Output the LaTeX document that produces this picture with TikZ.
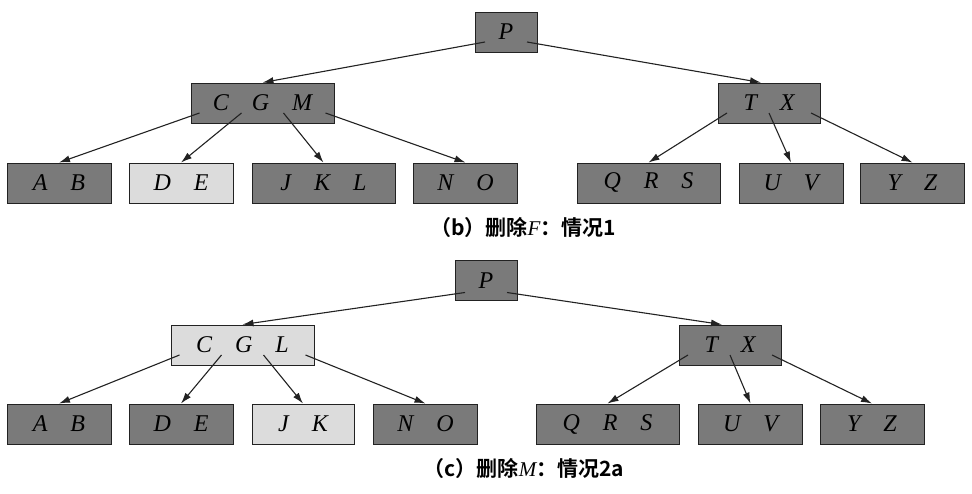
\documentclass[tikz,border=0pt]{standalone}
\usepackage{fontspec}
\setmainfont{Liberation Serif}
\newfontfamily\cjk{Noto Sans CJK SC}[BoldFont=Noto Sans CJK SC Bold]
\usepackage{xcolor}
\usepackage{tikz}
\usetikzlibrary{calc,arrows.meta}
\definecolor{dkc}{HTML}{7A7A7A}
\definecolor{ltc}{HTML}{DCDCDC}
\definecolor{edgec}{HTML}{222222}
\newcommand{\kg}{\hspace{23pt}}
\tikzset{
  ar/.style={-{Latex[length=11pt,width=7pt]},line width=1.1pt,edgec},
  dk/.style={draw=edgec,line width=0.9pt,fill=dkc,minimum height=40pt,inner sep=0pt,
    font=\fontsize{24}{24}\selectfont\itshape},
  lt/.style={dk,fill=ltc},
  captxt/.style={font=\fontsize{21}{21}\selectfont}
}

\begin{document}
\begin{tikzpicture}[x=1pt,y=-1pt]
\useasboundingbox (0,0) rectangle (972,494);
% (b) delete F
\node[dk,minimum width=62pt]  (p1)   at (506,32)    {P};
\node[dk,minimum width=143pt] (cgm)  at (262.5,103) {C\kg G\kg M};
\node[dk,minimum width=102pt] (tx1)  at (769,103)   {T\kg X};
\node[dk,minimum width=104pt] (ab1)  at (59,183)    {A\kg B};
\node[lt,minimum width=104pt] (de1)  at (181,183)   {D\kg E};
\node[dk,minimum width=143pt] (jkl1) at (323.5,183) {J\kg K\kg L};
\node[dk,minimum width=104pt] (no1)  at (465.5,183) {N\kg O};
\node[dk,minimum width=143pt] (qrs1) at (648.5,183) {Q\kg R\kg S};
\node[dk,minimum width=104pt] (uv1)  at (791,183)   {U\kg V};
\node[dk,minimum width=104pt] (yz1)  at (912.5,183) {Y\kg Z};
\draw[ar] ($(p1.center)+(-21,10)$) -- (cgm.north);
\draw[ar] ($(p1.center)+(21,10)$) -- ($(tx1.north)+(-8,0)$);
\draw[ar] ($(cgm.center)+(-63,10)$) -- (ab1.north);
\draw[ar] ($(cgm.center)+(-21,10)$) -- (de1.north);
\draw[ar] ($(cgm.center)+(21,10)$) -- (jkl1.north);
\draw[ar] ($(cgm.center)+(63,10)$) -- (no1.north);
\draw[ar] ($(tx1.center)+(-42,10)$) -- (qrs1.north);
\draw[ar] ($(tx1.center)+(0,10)$) -- (uv1.north);
\draw[ar] ($(tx1.center)+(42,10)$) -- (yz1.north);
\node[captxt] (capb) at (523,228) {{\cjk\bfseries （b）删除}{\itshape F}{\cjk\bfseries ：情况1}};
% (c) delete M
\node[dk,minimum width=62pt]  (p2)   at (486,280.5) {P};
\node[lt,minimum width=143pt] (cgl)  at (242.5,345) {C\kg G\kg L};
\node[dk,minimum width=102pt] (tx2)  at (730,345)   {T\kg X};
\node[dk,minimum width=104pt] (ab2)  at (59,424)    {A\kg B};
\node[dk,minimum width=104pt] (de2)  at (181,424)   {D\kg E};
\node[lt,minimum width=102pt] (jk2)  at (303,424)   {J\kg K};
\node[dk,minimum width=104pt] (no2)  at (425.5,424) {N\kg O};
\node[dk,minimum width=143pt] (qrs2) at (607.5,424) {Q\kg R\kg S};
\node[dk,minimum width=104pt] (uv2)  at (750.5,424) {U\kg V};
\node[dk,minimum width=104pt] (yz2)  at (872,424)   {Y\kg Z};
\draw[ar] ($(p2.center)+(-21,12)$) -- (cgl.north);
\draw[ar] ($(p2.center)+(21,12)$) -- ($(tx2.north)+(-8,0)$);
\draw[ar] ($(cgl.center)+(-63,10)$) -- (ab2.north);
\draw[ar] ($(cgl.center)+(-21,10)$) -- (de2.north);
\draw[ar] ($(cgl.center)+(21,10)$) -- (jk2.north);
\draw[ar] ($(cgl.center)+(63,10)$) -- (no2.north);
\draw[ar] ($(tx2.center)+(-42,10)$) -- (qrs2.north);
\draw[ar] ($(tx2.center)+(0,10)$) -- (uv2.north);
\draw[ar] ($(tx2.center)+(42,10)$) -- (yz2.north);
\node[captxt] (capc) at (524,468) {{\cjk\bfseries （c）删除}{\itshape M}{\cjk\bfseries ：情况2a}};
\end{tikzpicture}
\end{document}
